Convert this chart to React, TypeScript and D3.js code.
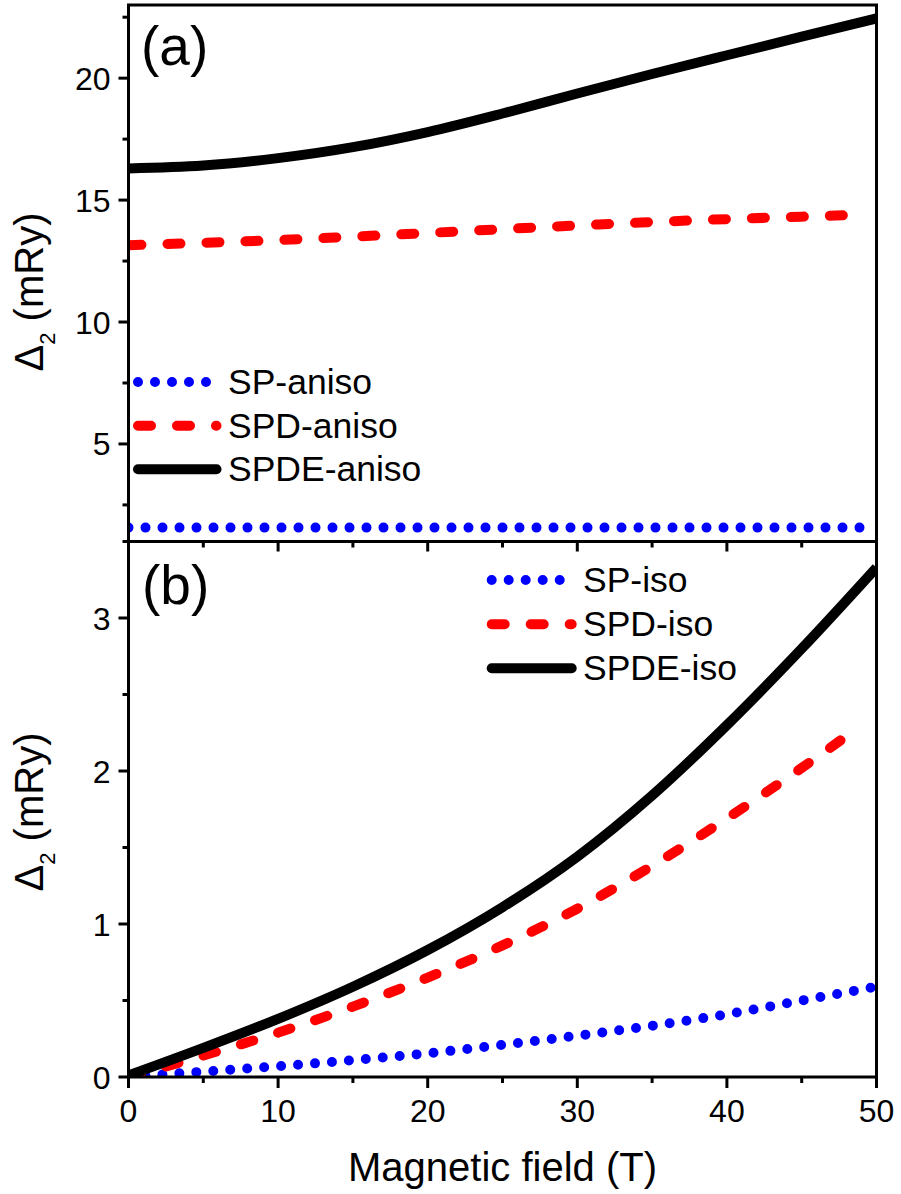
import React from "react";
import * as d3 from "d3";

// ---- data ----
const field = [0, 5, 10, 15, 20, 25, 30, 35, 40, 45, 50];
const fieldSpd = [0, 5, 10, 15, 20, 25, 30, 35, 40, 45, 49];

const spAniso = [1.57, 1.57, 1.57, 1.57, 1.57, 1.57, 1.57, 1.57, 1.57, 1.57, 1.57];
const spdAniso = [13.15, 13.25, 13.36, 13.5, 13.65, 13.81, 13.96, 14.1, 14.22, 14.32, 14.4];
const spdeAniso = [16.3, 16.42, 16.72, 17.17, 17.79, 18.55, 19.37, 20.17, 20.94, 21.7, 22.45];

const spIso = [0, 0.035, 0.07, 0.11, 0.155, 0.21, 0.27, 0.335, 0.41, 0.5, 0.59];
const spdIso = [0, 0.14, 0.29, 0.46, 0.65, 0.86, 1.1, 1.38, 1.69, 2.02, 2.3];
const spdeIso = [0.01, 0.19, 0.38, 0.59, 0.83, 1.11, 1.44, 1.84, 2.3, 2.8, 3.33];

const xMajor = [0, 10, 20, 30, 40, 50];
const xMinor = [5, 15, 25, 35, 45];
const yTopMajor = [5, 10, 15, 20];
const yTopMinor = [2.5, 7.5, 12.5, 17.5, 22.5];
const yBotMajor = [0, 1, 2, 3];
const yBotMinor = [0.5, 1.5, 2.5, 3.5];

const legendTop = ["SP-aniso", "SPD-aniso", "SPDE-aniso"];
const legendBot = ["SP-iso", "SPD-iso", "SPDE-iso"];

const FONT = "'Liberation Sans', Arial, Helvetica, sans-serif";

const styles = [
  { stroke: "#0000ff", dash: "0 17" },
  { stroke: "#ff0000", dash: "13 26" },
  { stroke: "#000000", dash: undefined as string | undefined },
];

export default function App() {
  const W = 901, H = 1194;
  const L = 128.5, R = 876.5;
  const topY0 = 5, midY = 541.5, botY = 1077;

  const x = d3.scaleLinear().domain([0, 50]).range([L, R]);
  const yTop = d3.scaleLinear().domain([1, 23]).range([midY, topY0]);
  const yBot = d3.scaleLinear().domain([0, 3.5]).range([botY, midY]);

  const mkLine = (ys: d3.ScaleLinear<number, number>) =>
    d3
      .line<[number, number]>()
      .x((d) => x(d[0]))
      .y((d) => ys(d[1]))
      .curve(d3.curveMonotoneX);

  const lt = mkLine(yTop);
  const lb = mkLine(yBot);
  const zip = (xs: number[], ys: number[]) => xs.map((v, i) => [v, ys[i]] as [number, number]);

  const topSeries = [zip(field, spAniso), zip(fieldSpd, spdAniso), zip(field, spdeAniso)];
  const botSeries = [zip(field, spIso), zip(fieldSpd, spdIso), zip(field, spdeIso)];

  const SW = 10;
  const axisW = 3;

  const legend = (labels: string[], x0: number, x1: number, ys: number[], tx: number) =>
    labels.map((lab, i) => (
      <g key={lab}>
        <line
          x1={x0}
          x2={x1}
          y1={ys[i]}
          y2={ys[i]}
          stroke={styles[i].stroke}
          strokeWidth={SW}
          strokeLinecap="round"
          strokeDasharray={styles[i].dash}
        />
        <text x={tx} y={ys[i] + 12} fontSize={35.5} fontFamily={FONT} fill="#000">
          {lab}
        </text>
      </g>
    ));

  const yLabel = (cy: number) => (
    <text
      transform={`translate(43,${cy}) rotate(-90)`}
      textAnchor="middle"
      fontSize={40}
      fontFamily={FONT}
      fill="#000"
    >
      <tspan>Δ</tspan>
      <tspan fontSize={22} dy={12}>2</tspan>
      <tspan dy={-12}> (mRy)</tspan>
    </text>
  );

  return (
    <svg
      width={W}
      height={H}
      viewBox={`0 0 ${W} ${H}`}
      style={{ position: "absolute", left: 0, top: 0, background: "#fff" }}
    >
      <defs>
        <clipPath id="clipTop">
          <rect x={L} y={topY0} width={R - L} height={midY - topY0} />
        </clipPath>
        <clipPath id="clipBot">
          <rect x={L} y={midY} width={R - L} height={botY - midY} />
        </clipPath>
      </defs>
      <rect x={0} y={0} width={W} height={H} fill="#fff" />

      {/* curves */}
      <g clipPath="url(#clipTop)" fill="none">
        {topSeries.map((s, i) => (
          <path
            key={i}
            d={lt(s) || ""}
            stroke={styles[i].stroke}
            strokeWidth={SW}
            strokeLinecap={i === 2 ? "butt" : "round"}
            strokeDasharray={styles[i].dash}
          />
        ))}
      </g>
      <g clipPath="url(#clipBot)" fill="none">
        {botSeries.map((s, i) => (
          <path
            key={i}
            d={lb(s) || ""}
            stroke={styles[i].stroke}
            strokeWidth={SW}
            strokeLinecap={i === 2 ? "butt" : "round"}
            strokeDasharray={styles[i].dash}
          />
        ))}
      </g>

      {/* frames */}
      <rect x={L} y={topY0} width={R - L} height={midY - topY0} fill="none" stroke="#000" strokeWidth={axisW} />
      <rect x={L} y={midY} width={R - L} height={botY - midY} fill="none" stroke="#000" strokeWidth={axisW} />

      {/* left ticks top */}
      {yTopMajor.map((v) => (
        <g key={"tm" + v}>
          <line x1={L - 10} x2={L} y1={yTop(v)} y2={yTop(v)} stroke="#000" strokeWidth={axisW} />
          <text x={L - 18} y={yTop(v) + 11.5} textAnchor="end" fontSize={32} fontFamily={FONT}>
            {v}
          </text>
        </g>
      ))}
      {yTopMinor.map((v) => (
        <line key={"tn" + v} x1={L - 6} x2={L} y1={yTop(v)} y2={yTop(v)} stroke="#000" strokeWidth={axisW} />
      ))}
      {/* left ticks bottom */}
      {yBotMajor.map((v) => (
        <g key={"bm" + v}>
          <line x1={L - 10} x2={L} y1={yBot(v)} y2={yBot(v)} stroke="#000" strokeWidth={axisW} />
          <text x={L - 18} y={yBot(v) + 11.5} textAnchor="end" fontSize={32} fontFamily={FONT}>
            {v}
          </text>
        </g>
      ))}
      {yBotMinor.map((v) => (
        <line key={"bn" + v} x1={L - 6} x2={L} y1={yBot(v)} y2={yBot(v)} stroke="#000" strokeWidth={axisW} />
      ))}

      {/* middle axis ticks (pointing down) */}
      {xMajor.map((v) => (
        <line key={"mm" + v} x1={x(v)} x2={x(v)} y1={midY} y2={midY + 10} stroke="#000" strokeWidth={axisW} />
      ))}
      {xMinor.map((v) => (
        <line key={"mn" + v} x1={x(v)} x2={x(v)} y1={midY} y2={midY + 6} stroke="#000" strokeWidth={axisW} />
      ))}

      {/* bottom axis ticks */}
      {xMajor.map((v) => (
        <g key={"xm" + v}>
          <line x1={x(v)} x2={x(v)} y1={botY} y2={botY + 11} stroke="#000" strokeWidth={axisW} />
          <text x={x(v)} y={botY + 45} textAnchor="middle" fontSize={32} fontFamily={FONT}>
            {v}
          </text>
        </g>
      ))}
      {xMinor.map((v) => (
        <line key={"xn" + v} x1={x(v)} x2={x(v)} y1={botY} y2={botY + 6} stroke="#000" strokeWidth={axisW} />
      ))}

      {/* axis titles */}
      <text x={(L + R) / 2} y={1181} textAnchor="middle" fontSize={40} fontFamily={FONT}>
        Magnetic field (T)
      </text>
      {yLabel(292)}
      {yLabel(812)}

      {/* panel labels */}
      <text x={141} y={65} fontSize={55} fontFamily={FONT}>(a)</text>
      <text x={142} y={604} fontSize={55} fontFamily={FONT}>(b)</text>

      {/* legends */}
      {legend(legendTop, 138, 216.5, [382, 425.7, 469.3], 228)}
      {legend(legendBot, 491.7, 571.7, [580, 624.3, 668.3], 583)}
    </svg>
  );
}
